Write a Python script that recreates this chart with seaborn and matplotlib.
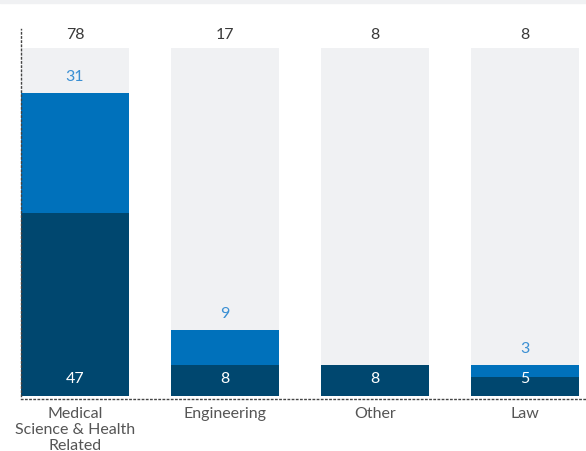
import numpy as np
import pandas as pd
import seaborn as sns
import matplotlib.pyplot as plt

# data
fields = ['Medical\nScience & Health\nRelated', 'Engineering', 'Other', 'Law']
dark_vals = [47, 8, 8, 5]
blue_vals = [31, 9, 0, 3]
totals = [78, 17, 8, 8]
scale_max = [89.5, 89.5, 89.5, 89.5]

DARK = '#00476f'
BLUE = '#0071bb'
BG = '#f0f1f3'
TXT = '#3a3a3a'

sns.set_theme(style='white')
plt.rcParams['font.family'] = ['Lato', 'DejaVu Sans']

df = pd.DataFrame({'field': fields, 'dark': dark_vals, 'blue': blue_vals,
                   'total': totals, 'bg': scale_max})
df['stack'] = df['dark'] + df['blue']

fig = plt.figure(figsize=(5.86, 4.52), dpi=100)
ax = fig.add_axes([21 / 586, 55 / 452, 565 / 586, 367 / 452])

bar_kw = dict(x='field', width=0.72, saturation=1, linewidth=0, edgecolor='none', ax=ax)
sns.barplot(data=df, y='bg', color=BG, **bar_kw)
sns.barplot(data=df, y='stack', color=BLUE, **bar_kw)
sns.barplot(data=df, y='dark', color=DARK, **bar_kw)

ax.set_xlim(-0.36, 3.4067)
ax.set_ylim(0, 94.5)

for i, row in df.iterrows():
    ax.text(i, 93.2, str(row['total']), ha='center', va='center', fontsize=11.5, color=TXT)
    ax.annotate(str(row['dark']), (i, 0), xytext=(0, 18), textcoords='offset pixels',
                ha='center', va='center', fontsize=11.5, color='white')
    if row['blue'] > 0:
        ax.annotate(str(row['blue']), (i, row['stack']), xytext=(0, 17),
                    textcoords='offset pixels', ha='center', va='center',
                    fontsize=11.5, color='#3a8fd3')

ax.set_xlabel('')
ax.set_ylabel('')
ax.set_yticks([])
ax.tick_params(axis='x', length=0, pad=5, labelsize=11.5, labelcolor='#555555')
for lbl in ax.get_xticklabels():
    lbl.set_linespacing(0.92)

for s in ['top', 'right']:
    ax.spines[s].set_visible(False)
for s in ['left', 'bottom']:
    ax.spines[s].set_linestyle((0, (1, 2)))
    ax.spines[s].set_color('#444444')
    ax.spines[s].set_linewidth(1.0)
ax.spines['bottom'].set_position(('outward', 2))

# light strip along the top of the picture
fig.patches.append(plt.Rectangle((0, 448 / 452), 1, 4 / 452, transform=fig.transFigure,
                                 color=BG, zorder=0))

fig.savefig('out.png', dpi=100)
